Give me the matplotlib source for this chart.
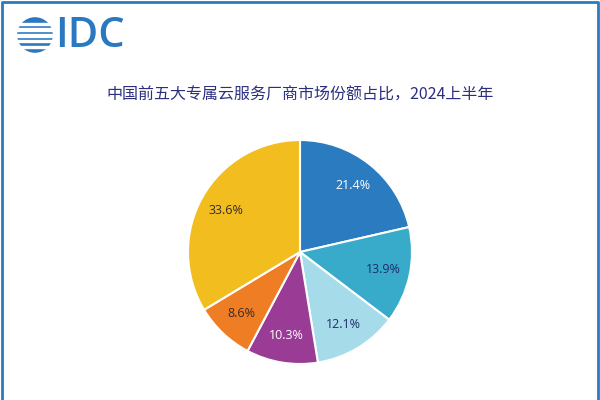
import numpy as np
import matplotlib.pyplot as plt
from matplotlib.patches import Circle, Rectangle
from matplotlib.lines import Line2D

plt.rcParams['font.family'] = ['Noto Sans CJK SC', 'DejaVu Sans']

title = '中国前五大专属云服务厂商市场份额占比，2024上半年'
shares = [21.4, 13.9, 12.1, 10.3, 8.6, 33.6]
colors = ['#2a7bbf', '#37abc9', '#a6dce9', '#9a3b95', '#ee7d24', '#f2bd1f']
label_colors = ['white', '#1f2d6b', '#1f2d6b', 'white', '#3a2a2a', '#3a2a2a']

fig = plt.figure(figsize=(6, 4), dpi=100)
fig.patch.set_facecolor('white')

# border (left, top, right - bottom is cut off in the original)
fig.lines.append(Line2D([0.003, 0.003, 0.997, 0.997], [0, 0.995, 0.995, 0],
                        transform=fig.transFigure, color='#2a7bbf', lw=2))

# logo globe
ax_logo = fig.add_axes([17 / 600, 1 - 53 / 400, 36 / 600, 36 / 400])
ax_logo.set_xlim(-1, 1)
ax_logo.set_ylim(-1, 1)
ax_logo.set_aspect('equal')
ax_logo.axis('off')
ax_logo.add_patch(Circle((0, 0), 0.95, color='#2a78c0'))
for yy in [0.62, 0.3, -0.02, -0.34, -0.66]:
    ax_logo.add_patch(Rectangle((-1, yy - 0.07), 2, 0.14, color='white'))
fig.text(55 / 600, 1 - 36 / 400, 'IDC', fontsize=30, color='#2a78c0',
         family='Open Sans', weight='semibold', va='center', ha='left')

fig.text(0.5, 1 - 95 / 400, title, fontsize=11.5, color='#2b2f7f', ha='center', va='center')

ax = fig.add_axes([188 / 600, 36 / 400, 224 / 600, 224 / 400])
wedges, texts, autotexts = ax.pie(shares, colors=colors, startangle=90, counterclock=False,
                                  autopct='%.1f%%', pctdistance=0.76,
                                  wedgeprops=dict(edgecolor='white', linewidth=1.5))
for t, c in zip(autotexts, label_colors):
    t.set_color(c)
    t.set_fontsize(9)
    t.set_family(['Open Sans', 'DejaVu Sans'])
ax.set_xlim(-1, 1)
ax.set_ylim(-1, 1)
ax.set_aspect('equal')

fig.savefig('out.png', dpi=100)
